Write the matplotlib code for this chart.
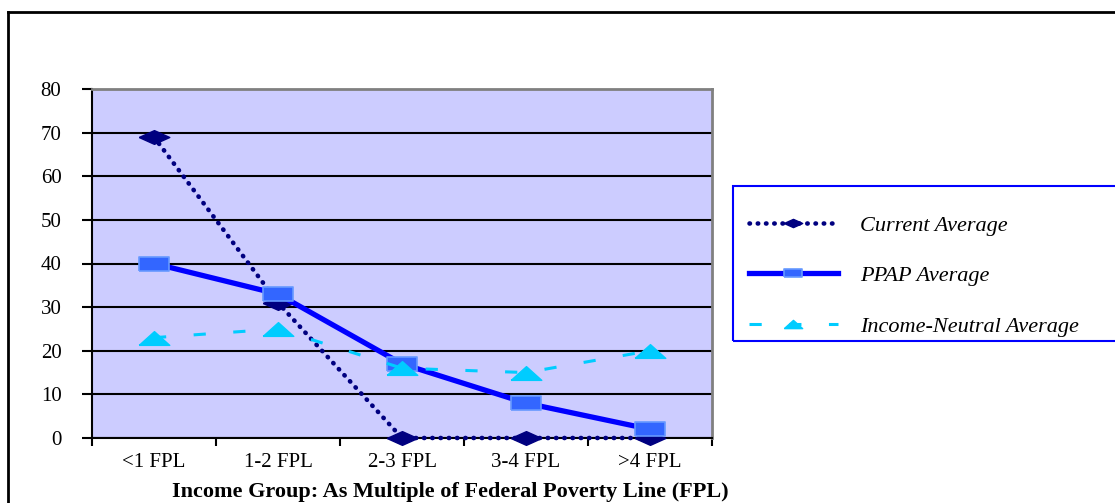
import matplotlib.pyplot as plt
from matplotlib.lines import Line2D
from matplotlib.patches import Rectangle
import numpy as np

# data per income group
groups = ['<1 FPL', '1-2 FPL', '2-3 FPL', '3-4 FPL', '>4 FPL']
current_avg = [69, 31, 0, 0, 0]
ppap_avg = [40, 33, 17, 8, 2]
neutral_avg = [23, 25, 16, 15, 20]

plt.rcParams['font.family'] = ['Liberation Serif', 'DejaVu Serif']

W, H = 1115, 503
fig = plt.figure(figsize=(W / 100, H / 100), dpi=100)
ax = fig.add_axes([92 / W, 1 - 438 / H, 620 / W, 349 / H])
ax.set_facecolor('#CCCCFF')

x = np.arange(len(groups))

# wide marker shapes
diamond = [(-1, 0), (0, 0.45), (1, 0), (0, -0.45), (-1, 0)]
box = [(-1, -0.45), (1, -0.45), (1, 0.45), (-1, 0.45), (-1, -0.45)]
tri = [(-1, -0.45), (0, 0.45), (1, -0.45), (-1, -0.45)]

ax.plot(x, current_avg, color='#000080', lw=3.3, linestyle=(0, (0.1, 1.7)),
        dash_capstyle='round', marker=diamond, markersize=22,
        markerfacecolor='#000080', markeredgecolor='#000080',
        label='Current Average', zorder=3, clip_on=False)
ax.plot(x, ppap_avg, color='#0000FF', lw=3.8, marker=box, markersize=22,
        markerfacecolor='#3366FF', markeredgecolor='#6699FF', markeredgewidth=1.2,
        label='PPAP Average', zorder=4, clip_on=False)
ax.plot(x, neutral_avg, color='#00CCFF', lw=2.2, linestyle=(0, (4, 9)),
        marker=tri, markersize=22, markerfacecolor='#00CCFF',
        markeredgecolor='#00CCFF', label='Income-Neutral Average', zorder=5,
        clip_on=False)

ax.set_xlim(-0.5, len(groups) - 0.5)
ax.set_ylim(0, 80)

# horizontal grid
ax.set_yticks(np.arange(0, 81, 10))
ax.yaxis.grid(True, color='black', lw=1.5)
ax.set_axisbelow(True)

# category boundaries as tick marks, labels at centers
ax.set_xticks(np.arange(-0.5, len(groups), 1))
ax.set_xticklabels([])
ax.set_xticks(x, minor=True)
ax.set_xticklabels(groups, minor=True, fontsize=15)
ax.tick_params(axis='x', which='major', length=6, width=1.5, direction='out')
ax.tick_params(axis='x', which='minor', length=0, pad=11)
ax.tick_params(axis='y', length=7, width=1.5, direction='out', pad=15, labelsize=15)

for s in ['left', 'bottom']:
    ax.spines[s].set_color('black')
    ax.spines[s].set_linewidth(1.5)
for s in ['top', 'right']:
    ax.spines[s].set_color('#808080')
    ax.spines[s].set_linewidth(2)

ax.set_xlabel('Income Group: As Multiple of Federal Poverty Line (FPL)',
              fontsize=16, fontweight='bold')
ax.xaxis.set_label_coords((450 - 92) / 620, (438 - 482) / 349)

# legend with its own box running off the right edge
leg = ax.legend(loc='upper left', bbox_to_anchor=(749 / W, 1 - 215 / H),
                bbox_transform=fig.transFigure, frameon=False,
                prop={'style': 'italic', 'size': 16}, handlelength=4.0,
                handletextpad=1.0, labelspacing=1.35, markerscale=0.6,
                borderpad=0, borderaxespad=0)
fig.add_artist(Rectangle((733 / W, 1 - 341 / H), 420 / W, 155 / H,
                         transform=fig.transFigure, fill=False,
                         edgecolor='#0000FF', lw=1.5, clip_on=False))

# outer chart border
fig.add_artist(Line2D([8 / W, 8 / W], [0, 1 - 12 / H], color='black', lw=2,
                      transform=fig.transFigure))
fig.add_artist(Line2D([8 / W, 1], [1 - 12 / H, 1 - 12 / H], color='black', lw=2,
                      transform=fig.transFigure))

fig.savefig('out.png', dpi=100)
